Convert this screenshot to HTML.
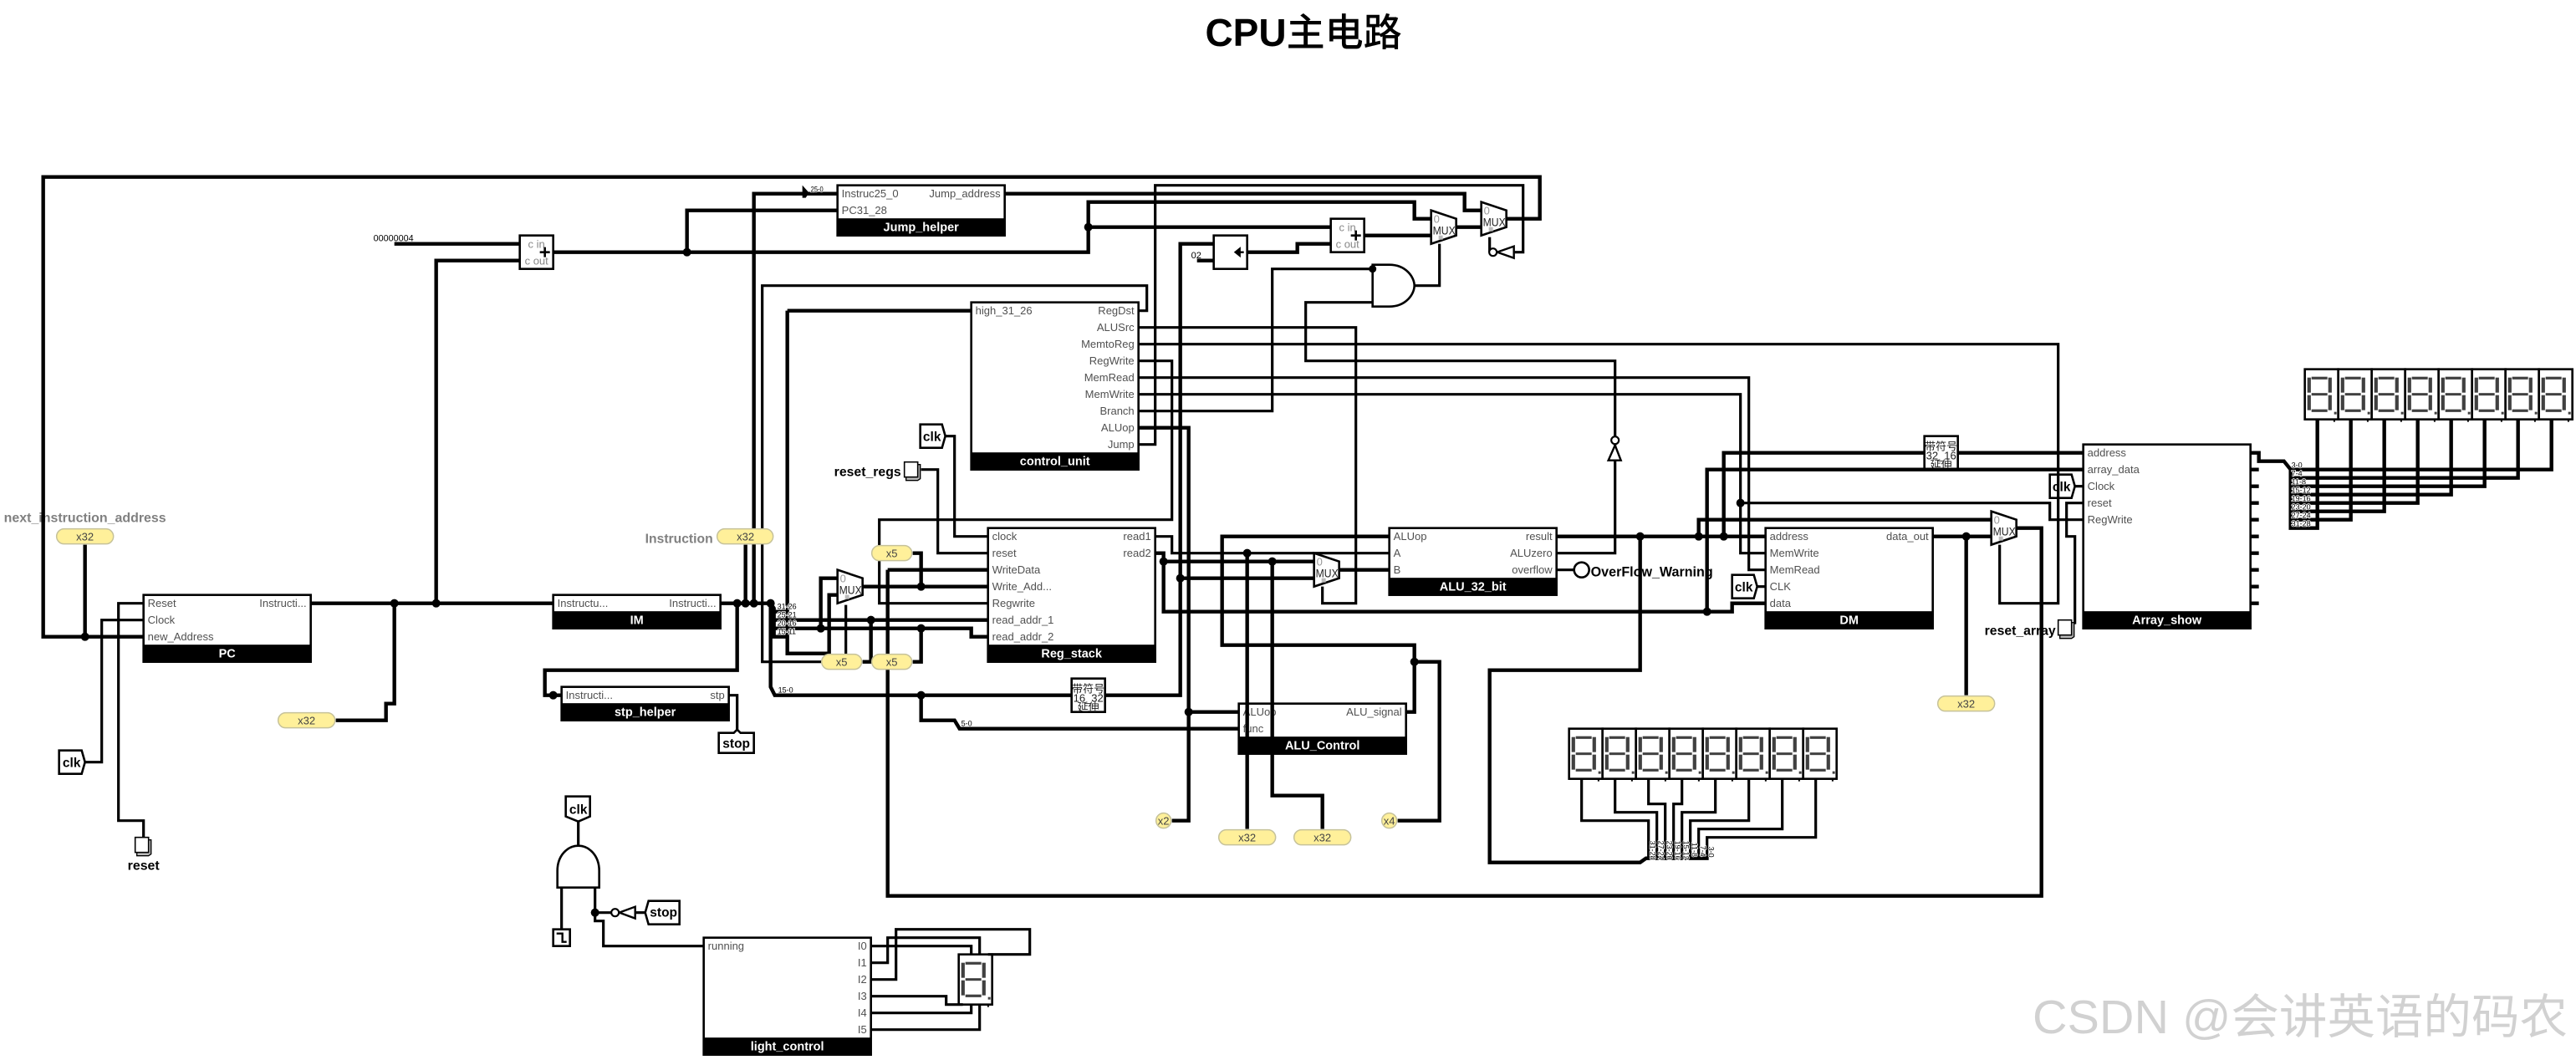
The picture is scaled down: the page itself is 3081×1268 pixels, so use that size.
<!DOCTYPE html>
<html><head><meta charset="utf-8"><title>CPU主电路</title>
<style>
html,body{margin:0;padding:0;background:#fff;width:3081px;height:1268px;overflow:hidden}
svg{display:block}
text{font-family:"Liberation Sans","Noto Sans CJK SC",sans-serif}
.b{fill:#fff;stroke:#000;stroke-width:2.6}
.k{fill:#000;stroke:#000;stroke-width:1}
.w path,.t{fill:none;stroke:#000;stroke-linejoin:miter}
.t path{stroke-width:4.4;fill:none;stroke:#000}
.n path{stroke-width:3.2;fill:none;stroke:#000}
.l{font-size:13px;fill:#505050;transform:translateX(-1px)}
.r{font-size:13px;fill:#505050;text-anchor:end}
.h{font-size:14.5px;font-weight:bold;fill:#fff;text-anchor:middle}
.g{font-size:15.5px;font-weight:bold;fill:#000;text-anchor:middle}
.s{font-size:9px;fill:#000;paint-order:stroke;stroke:#fff;stroke-width:1.6px}
.y{fill:#fff09a;stroke:#c6c29a;stroke-width:1.5}
.yt{font-size:13px;fill:#444;text-anchor:middle}
.m{font-size:13.5px;fill:#222}
.z{font-size:13px;fill:#999}
.c{font-size:13px;fill:#888;text-anchor:middle}
.x{font-size:13px;fill:#222;text-anchor:middle}
.q{fill:#000}
</style></head><body>
<svg width="3081" height="1268" viewBox="0 0 3081 1268" xmlns="http://www.w3.org/2000/svg">
<defs>
<g id="d">
<rect x="0" y="0" width="40" height="60" fill="#fff" stroke="#000" stroke-width="2.6"/>
<g fill="#404040">
<rect x="8" y="9" width="19" height="3.2"/><rect x="8" y="28.5" width="19" height="3"/><rect x="8" y="48" width="19" height="3.2"/>
<rect x="3" y="10" width="4.2" height="18"/><rect x="3" y="31" width="4.2" height="18"/>
<rect x="28" y="10" width="4.2" height="18"/><rect x="28" y="31" width="4.2" height="18"/>
<rect x="35" y="51" width="3" height="3"/>
</g>
<rect x="34.2" y="60" width="2" height="3" fill="#000"/>
</g>
<g id="mux">
<path d="M0,0 L30,10 V30 L0,40 Z" fill="#fff" stroke="#000" stroke-width="2.6"/>
<text x="3" y="15" class="z">0</text>
<text x="2" y="29" class="m" textLength="27" lengthAdjust="spacingAndGlyphs">MUX</text>
<rect x="9" y="30" width="5" height="5" fill="#bbb"/>
</g>
<g id="pin">
<path d="M2,3 H19 V20 L16,22 H2 Z" fill="#bbb" stroke="#000" stroke-width="1.4"/>
<rect x="0" y="0" width="16" height="18" fill="#fff" stroke="#000" stroke-width="1.6"/>
</g>
</defs>

<text x="1559" y="55" font-size="46" font-weight="bold" text-anchor="middle" fill="#000">CPU<tspan font-weight="500">主电路</tspan></text>

<g transform="translate(1.67,1.67)">

<!-- components -->
<rect x="170" y="710" width="200" height="80" class="b"/><rect x="170" y="770" width="200" height="20" class="k"/>
<text x="176" y="724.5" class="l">Reset</text><text x="176" y="744.5" class="l">Clock</text><text x="176" y="764.5" class="l">new_Address</text>
<text x="365" y="724.5" class="r">Instructi...</text><text x="270" y="785" class="h">PC</text>

<rect x="660" y="710" width="200" height="40" class="b"/><rect x="660" y="730" width="200" height="20" class="k"/>
<text x="666" y="724.5" class="l">Instructu...</text><text x="855" y="724.5" class="r">Instructi...</text><text x="760" y="745" class="h">IM</text>

<rect x="670" y="820" width="200" height="40" class="b"/><rect x="670" y="840" width="200" height="20" class="k"/>
<text x="676" y="834.5" class="l">Instructi...</text><text x="865" y="834.5" class="r">stp</text><text x="770" y="855" class="h">stp_helper</text>

<rect x="1000" y="220" width="200" height="60" class="b"/><rect x="1000" y="260" width="200" height="20" class="k"/>
<text x="1006" y="234.5" class="l">Instruc25_0</text><text x="1006" y="254.5" class="l">PC31_28</text><text x="1195" y="234.5" class="r">Jump_address</text><text x="1100" y="275" class="h">Jump_helper</text>

<rect x="1160" y="360" width="200" height="200" class="b"/><rect x="1160" y="540" width="200" height="20" class="k"/>
<text x="1166" y="374.5" class="l">high_31_26</text>
<text x="1355" y="374.5" class="r">RegDst</text><text x="1355" y="394.5" class="r">ALUSrc</text><text x="1355" y="414.5" class="r">MemtoReg</text><text x="1355" y="434.5" class="r">RegWrite</text><text x="1355" y="454.5" class="r">MemRead</text><text x="1355" y="474.5" class="r">MemWrite</text><text x="1355" y="494.5" class="r">Branch</text><text x="1355" y="514.5" class="r">ALUop</text><text x="1355" y="534.5" class="r">Jump</text>
<text x="1260" y="555" class="h">control_unit</text>

<rect x="1180" y="630" width="200" height="160" class="b"/><rect x="1180" y="770" width="200" height="20" class="k"/>
<text x="1186" y="644.5" class="l">clock</text><text x="1186" y="664.5" class="l">reset</text><text x="1186" y="684.5" class="l">WriteData</text><text x="1186" y="704.5" class="l">Write_Add...</text><text x="1186" y="724.5" class="l">Regwrite</text><text x="1186" y="744.5" class="l">read_addr_1</text><text x="1186" y="764.5" class="l">read_addr_2</text>
<text x="1375" y="644.5" class="r">read1</text><text x="1375" y="664.5" class="r">read2</text><text x="1280" y="785" class="h">Reg_stack</text>

<rect x="1660" y="630" width="200" height="80" class="b"/><rect x="1660" y="690" width="200" height="20" class="k"/>
<text x="1666" y="644.5" class="l">ALUop</text><text x="1666" y="664.5" class="l">A</text><text x="1666" y="684.5" class="l">B</text>
<text x="1855" y="644.5" class="r">result</text><text x="1855" y="664.5" class="r">ALUzero</text><text x="1855" y="684.5" class="r">overflow</text><text x="1760" y="705" class="h">ALU_32_bit</text>

<rect x="1480" y="840" width="200" height="60" class="b"/><rect x="1480" y="880" width="200" height="20" class="k"/>
<text x="1486" y="854.5" class="l">ALUop</text><text x="1486" y="874.5" class="l">func</text><text x="1675" y="854.5" class="r">ALU_signal</text><text x="1580" y="895" class="h">ALU_Control</text>

<rect x="2110" y="630" width="200" height="120" class="b"/><rect x="2110" y="730" width="200" height="20" class="k"/>
<text x="2116" y="644.5" class="l">address</text><text x="2116" y="664.5" class="l">MemWrite</text><text x="2116" y="684.5" class="l">MemRead</text><text x="2116" y="704.5" class="l">CLK</text><text x="2116" y="724.5" class="l">data</text>
<text x="2305" y="644.5" class="r">data_out</text><text x="2210" y="745" class="h">DM</text>

<rect x="2490" y="530" width="200" height="220" class="b"/><rect x="2490" y="730" width="200" height="20" class="k"/>
<text x="2496" y="544.5" class="l">address</text><text x="2496" y="564.5" class="l">array_data</text><text x="2496" y="584.5" class="l">Clock</text><text x="2496" y="604.5" class="l">reset</text><text x="2496" y="624.5" class="l">RegWrite</text>
<text x="2590" y="745" class="h">Array_show</text>

<rect x="840" y="1120" width="200" height="140" class="b"/><rect x="840" y="1240" width="200" height="20" class="k"/>
<text x="846" y="1134.5" class="l">running</text>
<text x="1035" y="1134.5" class="r">I0</text><text x="1035" y="1154.5" class="r">I1</text><text x="1035" y="1174.5" class="r">I2</text><text x="1035" y="1194.5" class="r">I3</text><text x="1035" y="1214.5" class="r">I4</text><text x="1035" y="1234.5" class="r">I5</text>
<text x="940" y="1255" class="h">light_control</text>

<!-- adders -->
<rect x="620" y="280" width="40" height="40" class="b"/>
<text x="640" y="295" class="c">c in</text><text x="640" y="315" class="c">c out</text>
<path d="M644,300 H656 M650,294 V306" stroke="#000" stroke-width="2.6" fill="none"/>
<rect x="1590" y="260" width="40" height="40" class="b"/>
<text x="1610" y="275" class="c">c in</text><text x="1610" y="295" class="c">c out</text>
<path d="M1614,280 H1626 M1620,274 V286" stroke="#000" stroke-width="2.6" fill="none"/>
<!-- shifter -->
<rect x="1450" y="280" width="40" height="40" class="b"/>
<path d="M1476,300 H1486 M1476,300 L1481,296 V304 Z" stroke="#000" stroke-width="2.4" fill="#000"/>
<text x="1423" y="307.5" font-size="11" fill="#000">02</text>
<text x="445" y="287" font-size="10.8" fill="#000" textLength="48" lengthAdjust="spacingAndGlyphs">00000004</text>

<!-- sign extenders -->
<rect x="1280" y="810" width="40" height="40" class="b"/>
<text x="1300" y="827" class="x">带符号</text><text x="1300" y="838" class="x">16_32</text><text x="1300" y="849" class="x">延伸</text>
<rect x="2300" y="520" width="40" height="40" class="b"/>
<text x="2320" y="537" class="x">带符号</text><text x="2320" y="548" class="x">32_16</text><text x="2320" y="559" class="x">延伸</text>

<!-- muxes -->
<use href="#mux" x="1000" y="680"/><use href="#mux" x="1570" y="660"/><use href="#mux" x="1710" y="250"/><use href="#mux" x="1770" y="240"/><use href="#mux" x="2380" y="610"/>

<!-- AND gates -->
<path d="M1640,315 H1660 C1680,315 1690,330 1690,340 C1690,350 1680,365 1660,365 H1640 Z" class="b"/>
<path d="M665,1060 H715 V1040 C715,1022 703,1010 690,1010 C677,1010 665,1022 665,1040 Z" class="b"/>

<!-- displays -->
<use href="#d" x="1875" y="870"/><use href="#d" x="1915" y="870"/><use href="#d" x="1955" y="870"/><use href="#d" x="1995" y="870"/><use href="#d" x="2035" y="870"/><use href="#d" x="2075" y="870"/><use href="#d" x="2115" y="870"/><use href="#d" x="2155" y="870"/>
<use href="#d" x="2755" y="440"/><use href="#d" x="2795" y="440"/><use href="#d" x="2835" y="440"/><use href="#d" x="2875" y="440"/><use href="#d" x="2915" y="440"/><use href="#d" x="2955" y="440"/><use href="#d" x="2995" y="440"/><use href="#d" x="3035" y="440"/>
<use href="#d" x="1145" y="1140"/>

<!-- tags -->
<g class="b" fill="#fff">
<polygon points="69,896 96,896 100,910 96,924 69,924" class="b"/>
<polygon points="1099,506 1125,506 1129,520 1125,534 1099,534" class="b"/>
<polygon points="2070,686 2096,686 2100,700 2096,714 2070,714" class="b"/>
<polygon points="2450,566 2476,566 2480,580 2476,594 2450,594" class="b"/>
<polygon points="675,951 704,951 704,975 690,981 675,975" class="b"/>
<polygon points="858,875 876,875 880,871 884,875 900,875 900,899 858,899" class="b"/>
<polygon points="770,1090 774,1076 811,1076 811,1104 774,1104" class="b"/>
</g>
<text x="84" y="916" class="g">clk</text><text x="1113" y="526" class="g">clk</text><text x="2084" y="706" class="g">clk</text><text x="2464" y="586" class="g">clk</text><text x="690" y="972" class="g">clk</text><text x="879" y="893" class="g">stop</text><text x="792" y="1095" class="g">stop</text>

<!-- pins -->
<use href="#pin" x="160" y="1000"/><use href="#pin" x="1080" y="551"/><use href="#pin" x="2460" y="740"/>

<!-- clock source -->
<rect x="660" y="1110" width="20" height="20" class="b"/>
<path d="M664,1115 H671 V1125 H676" fill="none" stroke="#000" stroke-width="2.4"/>

<!-- LED -->
<circle cx="1890" cy="680" r="9" class="b"/>

<!-- labels -->
<text x="3" y="623" font-size="15.5" font-weight="bold" fill="#808080" textLength="194" lengthAdjust="spacingAndGlyphs">next_instruction_address</text>
<text x="770" y="648" font-size="15.5" font-weight="bold" fill="#808080" textLength="81" lengthAdjust="spacingAndGlyphs">Instruction</text>
<text x="996" y="568" font-size="16" font-weight="bold" fill="#000" textLength="80" lengthAdjust="spacingAndGlyphs">reset_regs</text>
<text x="2372" y="758" font-size="16" font-weight="bold" fill="#000" textLength="85" lengthAdjust="spacingAndGlyphs">reset_array</text>
<text x="151" y="1039" font-size="16" font-weight="bold" fill="#000" textLength="38" lengthAdjust="spacingAndGlyphs">reset</text>
<text x="1901" y="688" font-size="17" font-weight="bold" fill="#000" textLength="146" lengthAdjust="spacingAndGlyphs">OverFlow_Warning</text>

<!-- thick wires -->
<g class="t">
<path d="M170,760 H50 V210 H1840 V260 H1800"/>
<path d="M100,650 V760"/>
<path d="M370,720 H660"/>
<path d="M470,720 V840 H460 V860 H400"/>
<path d="M520,720 V310 H620"/>
<path d="M470,290 H620"/>
<path d="M660,300 H1300 V240 H1690 V260 H1710"/>
<path d="M1300,270 H1590"/>
<path d="M820,300 V250 H1000"/>
<path d="M860,720 H920"/>
<path d="M880,720 V800 H650 V830 H670"/>
<path d="M890,650 V720"/>
<path d="M900,720 V230 H1000"/>
<path d="M940,370 H1160"/>
<path d="M940,370 V780 H990 V710 H1000"/>
<path d="M920,720 L924,726 V760 H940"/>
<path d="M924,730 H940"/>
<path d="M924,740 H1180"/>
<path d="M924,750 H1160 V760 H1180"/>
<path d="M980,750 V690 H1000"/>
<path d="M1040,740 V790 H1030"/>
<path d="M1100,750 V790 H1090"/>
<path d="M1090,660 H1100 V700"/>
<path d="M1030,700 H1180"/>
<path d="M920,720 V820 L925,830 H1280"/>
<path d="M1100,830 V860 H1140 L1146,870 H1480"/>
<path d="M1320,830 H1410 V290 H1450"/>
<path d="M1410,690 H1570"/>
<path d="M1430,310 H1450"/>
<path d="M1490,300 H1550 V290 H1590"/>
<path d="M1630,280 H1710"/>
<path d="M1740,270 H1770"/>
<path d="M1200,230 H1750 V250 H1770"/>
<path d="M1060,680 H1180"/>
<path d="M1060,680 V1070 H2440 V630 H2410"/>
<path d="M1380,660 H1390 V730 H2070 V720 H2110"/>
<path d="M1390,670 H1570"/>
<path d="M1600,680 H1660"/>
<path d="M1490,660 V990"/>
<path d="M1520,670 V950 H1580 V990"/>
<path d="M1360,510 H1420 V980 H1400"/>
<path d="M1420,850 H1480"/>
<path d="M1680,850 H1690 V770 H1460 V640 H1660"/>
<path d="M1690,790 H1720 V980 H1670"/>
<path d="M1860,640 H2110"/>
<path d="M1960,640 V800 H1780 V1030 H1960 L1967,1025 H2042"/>
<path d="M2030,640 V620 H2380"/>
<path d="M2060,640 V540 H2300"/>
<path d="M2340,540 H2490"/>
<path d="M2040,730 V560 H2490"/>
<path d="M2310,640 H2380"/>
<path d="M2350,640 V830"/>
<path d="M2690,540 H2700 V550 H2730 L2738,560 V630 H2770 V500"/>
<path d="M2738,560 H3050 V500"/>
<path d="M2738,570 H3010 V500"/>
<path d="M2738,580 H2970 V500"/>
<path d="M2738,590 H2930 V500"/>
<path d="M2738,600 H2890 V500"/>
<path d="M2738,610 H2850 V500"/>
<path d="M2738,620 H2810 V500"/>
<path d="M2690,560 H2700 M2690,580 H2700 M2690,600 H2700 M2690,620 H2700 M2690,640 H2700 M2690,660 H2700 M2690,680 H2700 M2690,700 H2700 M2690,720 H2700"/>
</g>

<!-- thin wires -->
<g class="n">
<path d="M170,740 H120 V910 H100"/>
<path d="M170,720 H140 V980 H170 V1000"/>
<path d="M870,830 H880 V872"/>
<path d="M1129,520 H1140 V640 H1180"/>
<path d="M1100,560 H1120 V660 H1180"/>
<path d="M1360,370 H1370 V340 H910 V790 H1010 V722"/>
<path d="M1360,430 H1400 V620 H1050 V720 H1180"/>
<path d="M1380,640 H1400 V660 H1660"/>
<path d="M1360,390 H1620 V720 H1580 V700"/>
<path d="M1360,410 H2460 V720 H2390 V650"/>
<path d="M1360,450 H2090 V680 H2110"/>
<path d="M1360,470 H2080 V660 H2110"/>
<path d="M2080,600 H2450 V620 H2490"/>
<path d="M1360,490 H1520 V320 H1640"/>
<path d="M1860,660 H1930 V430 H1560 V360 H1640"/>
<path d="M1690,340 H1720 V290"/>
<path d="M1360,530 H1380 V220 H1820 V300 H1810"/>
<path d="M1780,282 V300"/>
<path d="M1860,680 H1881"/>
<path d="M2100,700 H2110"/>
<path d="M2480,580 H2490"/>
<path d="M2490,600 H2470 V640 H2480 V745"/>
<path d="M1890,930 V980 H1970 V1025"/>
<path d="M1930,930 V970 H1980 V1025"/>
<path d="M1970,930 V960 H1990 V1025"/>
<path d="M2010,930 V960 H2000 V1025"/>
<path d="M2050,930 V970 H2010 V1025"/>
<path d="M2090,930 V980 H2020 V1025"/>
<path d="M2130,930 V990 H2030 V1025"/>
<path d="M2170,930 V1000 H2040 V1025"/>
<path d="M690,981 V1010"/>
<path d="M670,1060 V1110"/>
<path d="M710,1060 V1100 H720 V1130 H840"/>
<path d="M710,1090 H729"/>
<path d="M758,1090 H770"/>
<path d="M1040,1130 H1160 V1140"/>
<path d="M1040,1150 H1060 V1120 H1170 V1140"/>
<path d="M1040,1170 H1070 V1110 H1230 V1140 H1180"/>
<path d="M1040,1190 H1130 V1200 H1150"/>
<path d="M1040,1210 H1160 V1200"/>
<path d="M1040,1230 H1170 V1200"/>
</g>

<!-- inverters -->
<polygon points="1922,549 1937,549 1930,531" fill="#fff" stroke="#000" stroke-width="2.4"/><circle cx="1930" cy="525" r="4.5" fill="#fff" stroke="#000" stroke-width="2.2"/>
<polygon points="1809,293 1809,307 1789,300" fill="#fff" stroke="#000" stroke-width="2.4"/><circle cx="1784" cy="300" r="4.5" fill="#fff" stroke="#000" stroke-width="2.2"/>
<polygon points="758,1083 758,1097 739,1090" fill="#fff" stroke="#000" stroke-width="2.4"/><circle cx="734" cy="1090" r="4.5" fill="#fff" stroke="#000" stroke-width="2.2"/>

<!-- junction dots -->
<g class="q">
<circle cx="100" cy="760" r="5"/><circle cx="470" cy="720" r="5"/><circle cx="520" cy="720" r="5"/><circle cx="660" cy="830" r="5"/>
<circle cx="820" cy="300" r="5"/><circle cx="1300" cy="270" r="5"/>
<circle cx="880" cy="720" r="5"/><circle cx="890" cy="720" r="5"/><circle cx="900" cy="720" r="5"/><circle cx="920" cy="720" r="5"/>
<circle cx="980" cy="750" r="5"/><circle cx="1040" cy="740" r="5"/><circle cx="1100" cy="750" r="5"/><circle cx="1100" cy="700" r="5"/><circle cx="1100" cy="830" r="5"/>
<circle cx="1390" cy="670" r="5"/><circle cx="1410" cy="690" r="5"/><circle cx="1490" cy="660" r="5"/><circle cx="1520" cy="670" r="5"/>
<circle cx="1420" cy="850" r="5"/><circle cx="1690" cy="790" r="5"/>
<circle cx="1640" cy="320" r="4.5"/>
<circle cx="1960" cy="640" r="5"/><circle cx="2030" cy="640" r="5"/><circle cx="2060" cy="640" r="5"/><circle cx="2040" cy="730" r="5"/><circle cx="2080" cy="600" r="5"/><circle cx="2350" cy="640" r="5"/>
<circle cx="710" cy="1090" r="5"/>
<polygon points="958,220 966,229 962,235 958,235"/>
</g>

<!-- splitter labels -->
<text x="968" y="228" class="s" textLength="15" lengthAdjust="spacingAndGlyphs">25-0</text>
<text x="928" y="727" class="s">31-26</text><text x="928" y="737" class="s">25-21</text><text x="928" y="747" class="s">20-16</text><text x="928" y="757" class="s">15-11</text>
<text x="929" y="827" class="s">15-0</text><text x="1148" y="867" class="s">5-0</text>
<text x="2739" y="558" class="s">3-0</text><text x="2739" y="568" class="s">7-4</text><text x="2739" y="578" class="s">11-8</text><text x="2739" y="588" class="s">15-12</text><text x="2739" y="598" class="s">19-16</text><text x="2739" y="608" class="s">23-20</text><text x="2739" y="618" class="s">27-24</text><text x="2739" y="628" class="s">31-28</text>
<text transform="translate(1972,1004) rotate(90)" class="s">31-28</text><text transform="translate(1982,1004) rotate(90)" class="s">27-24</text><text transform="translate(1992,1004) rotate(90)" class="s">23-20</text><text transform="translate(2002,1004) rotate(90)" class="s">19-16</text><text transform="translate(2012,1004) rotate(90)" class="s">15-12</text><text transform="translate(2022,1006) rotate(90)" class="s">11-8</text><text transform="translate(2032,1010) rotate(90)" class="s">7-4</text><text transform="translate(2042,1011) rotate(90)" class="s">3-0</text>

<!-- tunnels -->
<rect x="66" y="631" width="68" height="18" rx="9" class="y"/><text x="100" y="645" class="yt">x32</text>
<rect x="856" y="631" width="67" height="18" rx="9" class="y"/><text x="890" y="645" class="yt">x32</text>
<rect x="331" y="851" width="68" height="18" rx="9" class="y"/><text x="365" y="865" class="yt">x32</text>
<rect x="1041" y="651" width="48" height="18" rx="9" class="y"/><text x="1065" y="665" class="yt">x5</text>
<rect x="981" y="781" width="48" height="18" rx="9" class="y"/><text x="1005" y="795" class="yt">x5</text>
<rect x="1041" y="781" width="48" height="18" rx="9" class="y"/><text x="1065" y="795" class="yt">x5</text>
<rect x="1381" y="971" width="18" height="18" rx="9" class="y"/><text x="1390" y="985" class="yt">x2</text>
<rect x="1651" y="971" width="18" height="18" rx="9" class="y"/><text x="1660" y="985" class="yt">x4</text>
<rect x="1456" y="991" width="68" height="18" rx="9" class="y"/><text x="1490" y="1005" class="yt">x32</text>
<rect x="1546" y="991" width="68" height="18" rx="9" class="y"/><text x="1580" y="1005" class="yt">x32</text>
<rect x="2316" y="831" width="68" height="18" rx="9" class="y"/><text x="2350" y="845" class="yt">x32</text>
</g>

<text x="2431" y="1236" font-size="57" fill="#000" fill-opacity="0.18" textLength="640" lengthAdjust="spacingAndGlyphs">CSDN @会讲英语的码农</text>
</svg>
</body></html>
